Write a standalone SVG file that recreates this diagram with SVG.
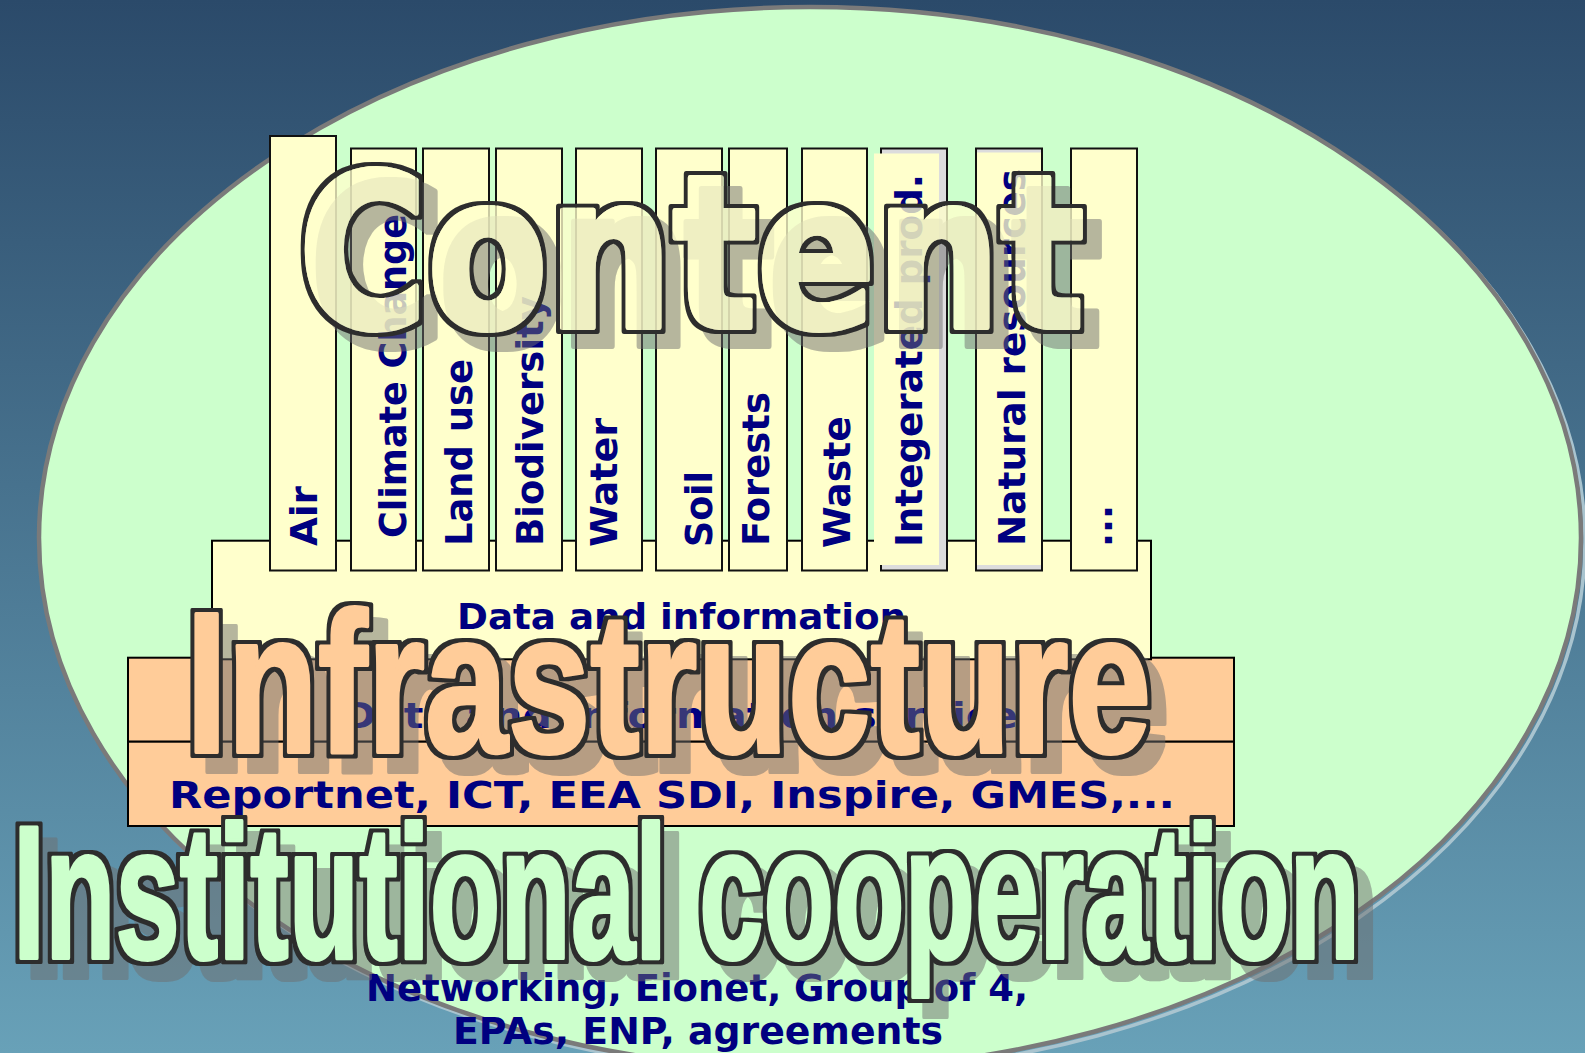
<svg xmlns="http://www.w3.org/2000/svg" width="1585" height="1053" viewBox="0 0 1585 1053">
<defs>
  <linearGradient id="bg" x1="0" y1="0" x2="0" y2="1">
    <stop offset="0" stop-color="#2b4a6a"/>
    <stop offset="1" stop-color="#68a1b8"/>
  </linearGradient>
  <filter id="wordart" x="-5%" y="-25%" width="112%" height="160%" color-interpolation-filters="sRGB">
    <feMorphology in="SourceAlpha" operator="dilate" radius="4" result="dil"/>
    <feOffset in="dil" dx="15" dy="16" result="off"/>
    <feFlood flood-color="#6e6e6e" flood-opacity="0.5"/>
    <feComposite in2="off" operator="in" result="shadow"/>
    <feFlood flood-color="#2d2d2d"/>
    <feComposite in2="dil" operator="in" result="ring"/>
    <feMerge>
      <feMergeNode in="shadow"/>
      <feMergeNode in="ring"/>
      <feMergeNode in="SourceGraphic"/>
    </feMerge>
  </filter>
  <filter id="wordartT" x="-5%" y="-25%" width="112%" height="160%" color-interpolation-filters="sRGB">
    <feMorphology in="SourceAlpha" operator="dilate" radius="4" result="dil"/>
    <feOffset in="dil" dx="15" dy="15" result="off"/>
    <feFlood flood-color="#6e6e6e" flood-opacity="0.5"/>
    <feComposite in2="off" operator="in" result="shadow"/>
    <feComposite in="dil" in2="SourceAlpha" operator="out" result="ringA"/>
    <feFlood flood-color="#2d2d2d"/>
    <feComposite in2="ringA" operator="in" result="ring"/>
    <feColorMatrix in="SourceGraphic" type="matrix" values="1 0 0 0 0  0 1 0 0 0  0 0 1 0 0  0 0 0 0.78 0" result="glyph"/>
    <feMerge>
      <feMergeNode in="shadow"/>
      <feMergeNode in="ring"/>
      <feMergeNode in="glyph"/>
    </feMerge>
  </filter>
</defs>
<style>
  .col{fill:#ffffcc;stroke:#111;stroke-width:2}
  .colsh{fill:#dcdcdc;stroke:#111;stroke-width:2}
  .pale{fill:#ffffcc}
  .lbl{font-family:"DejaVu Sans",Verdana,sans-serif;font-weight:bold;fill:#000080}
  .boxy{fill:#ffffcc;stroke:#000;stroke-width:2}
  .boxo{fill:#ffcc99;stroke:#000;stroke-width:2}
  .wa{font-weight:bold;filter:url(#wordart);stroke-linejoin:round}
  .waT{font-weight:bold;filter:url(#wordartT);stroke-linejoin:round}
</style>

<rect x="0" y="0" width="1585" height="1053" fill="url(#bg)"/>

<g id="ellipse">
  <ellipse cx="814" cy="542" rx="771" ry="531" fill="none" stroke="#a9c4cf" stroke-width="3.5"/>
  <ellipse cx="810" cy="538" rx="771" ry="531" fill="#ccffcc" stroke="#7a7a7a" stroke-width="4.5"/>
</g>

<g id="infra-boxes">
  <g id="service">
    <rect class="boxo" x="128" y="657.7" width="1106" height="84"/>
    <text class="lbl" x="342" y="728" font-size="36" textLength="676" lengthAdjust="spacingAndGlyphs">Data and information service</text>
  </g>
  <g id="reportnet">
    <rect class="boxo" x="128" y="741.7" width="1106" height="84.3"/>
    <text class="lbl" x="169" y="808" font-size="38" textLength="1006" lengthAdjust="spacingAndGlyphs">Reportnet, ICT, EEA SDI, Inspire, GMES,...</text>
  </g>
</g>

<g id="data-info">
  <rect class="boxy" x="212" y="540.7" width="939" height="118.6"/>
  <text class="lbl" x="457" y="629" font-size="36" textLength="449" lengthAdjust="spacingAndGlyphs">Data and information</text>
</g>

<g id="columns">
  <g id="col-air">
    <rect class="col" x="270" y="136" width="66" height="434.5"/>
    <text class="lbl" font-size="38" transform="translate(317,546) rotate(-90)" textLength="60" lengthAdjust="spacingAndGlyphs">Air</text>
  </g>
  <g id="col-climate">
    <rect class="col" x="351" y="148.5" width="65" height="422"/>
    <text class="lbl" font-size="38" transform="translate(406,538) rotate(-90)" textLength="324" lengthAdjust="spacingAndGlyphs">Climate Change</text>
  </g>
  <g id="col-landuse">
    <rect class="col" x="423" y="148.5" width="66" height="422"/>
    <text class="lbl" font-size="38" transform="translate(472,546) rotate(-90)" textLength="187" lengthAdjust="spacingAndGlyphs">Land use</text>
  </g>
  <g id="col-biodiversity">
    <rect class="col" x="496" y="148.5" width="66" height="422"/>
    <text class="lbl" font-size="38" transform="translate(543,546) rotate(-90)" textLength="250" lengthAdjust="spacingAndGlyphs">Biodiversity</text>
  </g>
  <g id="col-water">
    <rect class="col" x="576" y="148.5" width="66" height="422"/>
    <text class="lbl" font-size="38" transform="translate(617,547) rotate(-90)" textLength="129" lengthAdjust="spacingAndGlyphs">Water</text>
  </g>
  <g id="col-soil">
    <rect class="col" x="656" y="148.5" width="66" height="422"/>
    <text class="lbl" font-size="38" transform="translate(712,547) rotate(-90)" textLength="76" lengthAdjust="spacingAndGlyphs">Soil</text>
  </g>
  <g id="col-forests">
    <rect class="col" x="729" y="148.5" width="58" height="422"/>
    <text class="lbl" font-size="38" transform="translate(769,546) rotate(-90)" textLength="154" lengthAdjust="spacingAndGlyphs">Forests</text>
  </g>
  <g id="col-waste">
    <rect class="col" x="802" y="148.5" width="65" height="422"/>
    <text class="lbl" font-size="38" transform="translate(850,548) rotate(-90)" textLength="132" lengthAdjust="spacingAndGlyphs">Waste</text>
  </g>
  <g id="col-integrated">
    <rect class="colsh" x="881" y="148.5" width="66" height="422"/>
    <rect class="pale" x="874" y="153.5" width="65" height="411.5"/>
    <text class="lbl" font-size="38" transform="translate(922,547) rotate(-90)" textLength="373" lengthAdjust="spacingAndGlyphs">Integerated prod.</text>
  </g>
  <g id="col-natural">
    <rect class="colsh" x="976" y="148.5" width="66" height="422"/>
    <rect class="pale" x="977" y="152.5" width="64" height="412.5"/>
    <text class="lbl" font-size="38" transform="translate(1025,546) rotate(-90)" textLength="377" lengthAdjust="spacingAndGlyphs">Natural resources</text>
  </g>
  <g id="col-more">
    <rect class="col" x="1071" y="148.5" width="66" height="422"/>
    <text class="lbl" font-size="38" transform="translate(1112,547) rotate(-90)" textLength="42" lengthAdjust="spacingAndGlyphs">...</text>
  </g>
</g>

<g id="content-title">
  <text class="waT" x="298.5" y="327" font-family="DejaVu Sans, Verdana, sans-serif" font-size="212" textLength="786" lengthAdjust="spacingAndGlyphs" fill="#ffffcc" stroke="#ffffcc" stroke-width="6">Content</text>
</g>

<g id="infrastructure-title">
  <text class="wa" x="186" y="751.5" font-family="Liberation Sans, Arial, sans-serif" font-size="200" textLength="965" lengthAdjust="spacingAndGlyphs" fill="#ffcc99" stroke="#ffcc99" stroke-width="4">Infrastructure</text>
</g>

<g id="networking">
  <text class="lbl" x="366" y="1001" font-size="37" textLength="662" lengthAdjust="spacingAndGlyphs">Networking, Eionet, Group of 4,</text>
  <text class="lbl" x="453" y="1044" font-size="37" textLength="490" lengthAdjust="spacingAndGlyphs">EPAs, ENP, agreements</text>
</g>

<g id="institutional-title">
  <text class="wa" x="13" y="957.5" font-family="Liberation Sans, Arial, sans-serif" font-size="190" textLength="1347" lengthAdjust="spacingAndGlyphs" fill="#ccffcc" stroke="#ccffcc" stroke-width="4">Institutional cooperation</text>
</g>

<g id="connectors"/>
</svg>
